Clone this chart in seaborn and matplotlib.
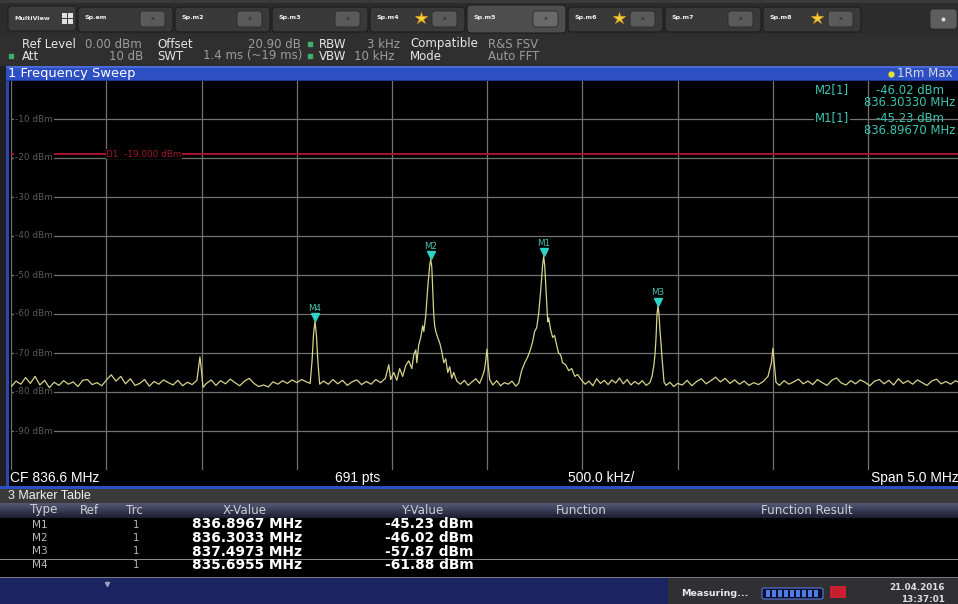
import numpy as np
import pandas as pd
import matplotlib
matplotlib.use("Agg")
import matplotlib.pyplot as plt
import matplotlib.transforms as mtransforms
from matplotlib.patches import Rectangle, FancyBboxPatch
import seaborn as sns

# ---------------- data ----------------
trace_freq_mhz = [
    834.100, 834.125, 834.150, 834.175, 834.200, 834.225, 834.250, 834.275, 834.300, 834.325,
    834.350, 834.375, 834.400, 834.425, 834.450, 834.475, 834.500, 834.525, 834.550, 834.575,
    834.600, 834.625, 834.650, 834.675, 834.700, 834.725, 834.750, 834.775, 834.800, 834.825,
    834.850, 834.875, 834.900, 834.925, 834.950, 834.975, 835.000, 835.025, 835.050, 835.075,
    835.083, 835.091, 835.099, 835.107, 835.125, 835.150, 835.175, 835.200, 835.225, 835.250,
    835.275, 835.300, 835.325, 835.350, 835.375, 835.400, 835.425, 835.450, 835.475, 835.500,
    835.525, 835.550, 835.575, 835.600, 835.625, 835.650, 835.670, 835.680, 835.688, 835.6955,
    835.703, 835.711, 835.720, 835.740, 835.765, 835.790, 835.815, 835.840, 835.865, 835.890,
    835.915, 835.940, 835.965, 835.990, 836.015, 836.040, 836.065, 836.083, 836.093, 836.109,
    836.125, 836.140, 836.156, 836.172, 836.188, 836.204, 836.214, 836.225, 836.230, 836.240,
    836.251, 836.261, 836.267, 836.277, 836.288, 836.298, 836.3033, 836.309, 836.314, 836.319,
    836.324, 836.330, 836.340, 836.351, 836.361, 836.372, 836.382, 836.393, 836.403, 836.414,
    836.424, 836.440, 836.460, 836.480, 836.500, 836.520, 836.540, 836.560, 836.575, 836.585,
    836.592, 836.599, 836.606, 836.613, 836.630, 836.650, 836.670, 836.690, 836.710, 836.730,
    836.750, 836.765, 836.781, 836.797, 836.813, 836.828, 836.839, 836.849, 836.860, 836.870,
    836.881, 836.891, 836.8967, 836.902, 836.907, 836.912, 836.918, 836.923, 836.933, 836.944,
    836.954, 836.965, 836.975, 836.986, 836.996, 837.012, 837.028, 837.044, 837.060, 837.075,
    837.096, 837.115, 837.135, 837.155, 837.175, 837.195, 837.215, 837.235, 837.255, 837.275,
    837.295, 837.315, 837.335, 837.355, 837.375, 837.395, 837.415, 837.435, 837.455, 837.466,
    837.476, 837.482, 837.487, 837.492, 837.4973, 837.503, 837.508, 837.513, 837.518, 837.524,
    837.529, 837.540, 837.560, 837.580, 837.600, 837.625, 837.650, 837.675, 837.700, 837.725,
    837.750, 837.775, 837.800, 837.825, 837.850, 837.875, 837.900, 837.925, 837.950, 837.975,
    838.000, 838.025, 838.050, 838.075, 838.085, 838.093, 838.101, 838.109, 838.117, 838.135,
    838.160, 838.185, 838.210, 838.235, 838.260, 838.285, 838.310, 838.335, 838.360, 838.385,
    838.410, 838.435, 838.460, 838.485, 838.510, 838.535, 838.560, 838.585, 838.610, 838.635,
    838.660, 838.685, 838.710, 838.735, 838.760, 838.785, 838.810, 838.835, 838.860, 838.885,
    838.910, 838.935, 838.960, 838.985, 839.010, 839.035, 839.060, 839.085, 839.100,
]
trace_level_dbm = [
    -78.6, -77.2, -78.0, -76.3, -77.8, -76.0, -78.2, -77.0, -78.9, -77.5,
    -78.3, -77.1, -78.0, -77.4, -78.6, -77.0, -76.8, -78.1, -77.6, -78.4,
    -76.9, -75.6, -77.2, -76.0, -77.9, -76.6, -78.3, -77.8, -76.8, -78.5,
    -77.3, -78.0, -76.9, -77.6, -78.2, -77.0, -78.4, -77.5, -78.1, -77.0,
    -74.0, -71.0, -74.5, -78.8, -77.8, -76.9, -78.3, -77.1, -77.9, -76.7,
    -77.6, -78.4, -77.2, -76.5, -77.8, -78.6, -78.2, -78.7, -77.4, -78.0,
    -77.1, -77.8, -76.9, -77.6, -76.8, -77.4, -77.8, -72.0, -65.0, -61.88,
    -65.5, -72.5, -78.0, -77.2, -78.0, -76.8, -77.9, -77.0, -78.3, -77.4,
    -76.9, -78.1, -77.3, -78.0, -76.8, -77.6, -76.5, -73.0, -76.8, -75.0,
    -77.0, -74.0, -76.0, -73.2, -72.0, -74.0, -70.5, -69.2, -72.5, -68.0,
    -66.0, -63.0, -64.5, -60.5, -53.0, -47.5, -46.02, -48.0, -54.0, -60.0,
    -63.0, -64.5, -66.0, -67.5, -69.5, -72.5, -71.5, -75.0, -73.5, -76.5,
    -75.0, -77.2, -78.0, -77.0, -78.3, -77.4, -76.6, -77.8, -76.0, -74.5,
    -72.0, -69.0, -73.5, -76.8, -78.2, -77.1, -78.4, -77.6, -78.0, -77.2,
    -78.5, -77.8, -74.5, -72.5, -71.0, -69.0, -67.0, -64.5, -63.5, -60.0,
    -54.0, -47.5, -45.23, -47.5, -52.0, -57.0, -62.0, -61.0, -64.0, -66.0,
    -65.5, -68.0, -70.0, -70.5, -72.5, -73.0, -74.5, -74.0, -76.0, -75.5,
    -77.0, -78.0, -77.2, -78.4, -76.6, -77.8, -77.0, -78.1, -76.9, -77.7,
    -76.4, -77.9, -76.8, -78.2, -77.3, -78.0, -77.1, -78.3, -77.6, -76.0,
    -73.0, -70.0, -66.0, -60.0, -57.87, -60.5, -64.5, -67.5, -71.0, -74.5,
    -77.5, -78.3, -77.5, -78.6, -77.8, -78.2, -77.0, -78.4, -77.3, -76.6,
    -77.9, -77.1, -76.2, -77.4, -76.5, -77.8, -76.9, -78.0, -77.2, -78.3,
    -77.6, -78.1, -77.3, -76.0, -74.0, -72.5, -68.8, -73.0, -77.5, -78.3,
    -77.1, -78.0, -77.4, -76.7, -77.9, -77.2, -78.1, -76.8, -77.6, -78.3,
    -77.0, -76.4, -77.7, -78.2, -77.1, -77.9, -76.9, -77.5, -78.4, -77.2,
    -76.8, -77.9, -77.0, -78.2, -76.6, -77.8, -77.1, -78.0, -76.9, -77.6,
    -78.3, -77.2, -76.7, -77.9, -77.3, -78.0, -77.1, -77.7, -78.2,
]

marker_names = ["M1", "M2", "M3", "M4"]
marker_freq_mhz = [836.8967, 836.3033, 837.4973, 835.6955]
marker_level_dbm = [-45.23, -46.02, -57.87, -61.88]
marker_x_text = ["836.8967 MHz", "836.3033 MHz", "837.4973 MHz", "835.6955 MHz"]
marker_y_text = ["-45.23 dBm", "-46.02 dBm", "-57.87 dBm", "-61.88 dBm"]

center_freq_mhz = 836.6
span_mhz = 5.0
ref_level_dbm = 0.0
range_db = 100.0
display_line_dbm = -19.0
y_grid_dbm = [-10, -20, -30, -40, -50, -60, -70, -80, -90]
y_tick_labels = ["-10 dBm", "-20 dBm", "-30 dBm", "-40 dBm", "-50 dBm",
                 "-60 dBm", "-70 dBm", "-80 dBm", "-90 dBm"]
tab_labels = ["Sp.em", "Sp.m2", "Sp.m3", "Sp.m4", "Sp.m5", "Sp.m6", "Sp.m7", "Sp.m8"]

# ---------------- style ----------------
sns.set_theme(style="dark")
plt.rcParams["font.family"] = ["DejaVu Sans"]

W, H = 958, 604
fig = plt.figure(figsize=(W / 100, H / 100), dpi=100, facecolor="black")

# main spectrum axes (pixel geometry: left 11.3, right 963, top 80, bottom 470)
x0, x1, yt, yb = 11.3, 963.1, 80.0, 470.0
ax = fig.add_axes([x0 / W, 1 - yb / H, (x1 - x0) / W, (yb - yt) / H], zorder=1)
ax.set_facecolor("black")
f_lo = center_freq_mhz - span_mhz / 2
f_hi = center_freq_mhz + span_mhz / 2
ax.set_xlim(f_lo, f_hi)
ax.set_ylim(ref_level_dbm - range_db, ref_level_dbm)
ax.set_xticks(np.linspace(f_lo, f_hi, 11))
ax.set_yticks(y_grid_dbm)
ax.grid(True, color="#727272", linewidth=0.9)
ax.tick_params(left=False, bottom=False, labelleft=False, labelbottom=False)
for s in ax.spines.values():
    s.set_visible(False)

df = pd.DataFrame({"freq": trace_freq_mhz, "level": trace_level_dbm})
sns.lineplot(data=df, x="freq", y="level", ax=ax, color="#d6d38a",
             linewidth=0.9, estimator=None, zorder=4)
ax.set_xlabel("")
ax.set_ylabel("")

# display line
ax.axhline(display_line_dbm, color="#b3132e", linewidth=1.3, zorder=3)
ax.text(0.1, display_line_dbm, "D1  -19.000 dBm", color="#9e1a2c", fontsize=6.4,
        transform=ax.get_yaxis_transform(), va="center", ha="left", zorder=3.5,
        bbox=dict(facecolor="black", edgecolor="none", pad=0.3))

# y level labels inside the grid
for v, lab in zip(y_grid_dbm, y_tick_labels):
    ax.text(0.004, v, lab, color="#5a5a5a", fontsize=6.4,
            transform=ax.get_yaxis_transform(), va="center", ha="left", zorder=3.6,
            bbox=dict(facecolor="black", edgecolor="none", pad=0.6))

# markers
off_tri = mtransforms.offset_copy(ax.transData, fig=fig, x=0, y=4, units="dots")
off_lab = mtransforms.offset_copy(ax.transData, fig=fig, x=0, y=13, units="dots")
ax.plot(marker_freq_mhz, marker_level_dbm, "v", color="#2fd4c6", markersize=5.5,
        transform=off_tri, zorder=6, linestyle="none")
for n, f, l in zip(marker_names, marker_freq_mhz, marker_level_dbm):
    ax.text(f, l, n, color="#4cc4b2", fontsize=6.3, ha="center", va="center",
            transform=off_lab, zorder=6)

# ---------------- overlay chrome (pixel coords) ----------------
ov = fig.add_axes([0, 0, 1, 1], zorder=5)
ov.set_xlim(0, W)
ov.set_ylim(H, 0)
ov.axis("off")
ov.patch.set_visible(False)

def rect(x, y, w, h, c, **kw):
    ov.add_patch(Rectangle((x, y), w, h, facecolor=c, edgecolor=kw.pop("ec", "none"),
                           linewidth=kw.pop("lw", 0), **kw))

def rrect(x, y, w, h, c, ec="none", lw=0.0, r=3):
    ov.add_patch(FancyBboxPatch((x, y), w, h, boxstyle=f"round,pad=0,rounding_size={r}",
                                facecolor=c, edgecolor=ec, linewidth=lw))

def txt(x, y, s, **kw):
    kw.setdefault("va", "center")
    kw.setdefault("ha", "left")
    ov.text(x, y, s, **kw)

# tab bar
rect(0, 0, W, 34, "#2c2c2c")
rect(0, 0, W, 3, "#3a3a3a")
rrect(8, 6, 68, 25, "#3c3c3c", ec="#202020", lw=0.8)
txt(14, 18, "MultiView", color="#e8e8e8", fontsize=4.6, fontweight="bold")
for (gx, gy) in [(62, 13), (68, 13), (62, 19), (68, 19)]:
    rect(gx, gy, 5, 4.5, "#e0e0e0")
tab_x = [78, 175, 272, 370, 467, 568, 665, 763]
tab_w = [95, 95, 96, 95, 99, 95, 96, 98]
for i, (tx, tw, lab) in enumerate(zip(tab_x, tab_w, tab_labels)):
    active = i == 4
    rrect(tx, 5 if active else 7, tw, 28 if active else 25,
          "#4e4e4e" if active else "#393939", ec="#1c1c1c", lw=0.8, r=4)
    txt(tx + 7, 18, lab, color="#f0f0f0", fontsize=4.6, fontweight="bold")
    rrect(tx + tw - 33, 11, 25, 16, "#5a5a5a" if not active else "#6a6a6a",
          ec="#2a2a2a", lw=0.6, r=3)
    txt(tx + tw - 20.5, 19, "x", color="#202020", fontsize=4.5, ha="center")
    if i in (3, 5, 7):
        ov.plot([tx + tw - 44], [18], marker="*", color="#f3d53a", markersize=9,
                markeredgecolor="#e8a020", markeredgewidth=0.5)
rrect(930, 9, 27, 20, "#5e5e5e", ec="#2a2a2a", lw=0.6, r=3)
ov.plot([943.5], [19], marker="o", color="#dddddd", markersize=1.8)

# header info
rect(0, 34, W, 32, "#2f2f2f")
lab_c, val_c = "#e6e6e6", "#9c9c9c"
fs = 8.5
txt(22, 44, "Ref Level", color=lab_c, fontsize=fs)
txt(85, 44, "0.00 dBm", color=val_c, fontsize=fs)
txt(157, 44, "Offset", color=lab_c, fontsize=fs)
txt(301, 44, "20.90 dB", color=val_c, fontsize=fs, ha="right")
ov.plot([310], [44], "s", color="#3fae6a", markersize=3)
txt(319, 44, "RBW", color=lab_c, fontsize=fs)
txt(367, 44, "3 kHz", color=val_c, fontsize=fs)
txt(410, 44, "Compatible", color=lab_c, fontsize=fs)
txt(488, 44, "R&S FSV", color=val_c, fontsize=fs)
ov.plot([11], [56], "s", color="#3fae6a", markersize=3)
txt(22, 56, "Att", color=lab_c, fontsize=fs)
txt(143, 56, "10 dB", color=val_c, fontsize=fs, ha="right")
txt(157, 56, "SWT", color=lab_c, fontsize=fs)
txt(203, 56, "1.4 ms (~19 ms)", color=val_c, fontsize=fs)
ov.plot([310], [56], "s", color="#3fae6a", markersize=3)
txt(319, 56, "VBW", color=lab_c, fontsize=fs)
txt(354, 56, "10 kHz", color=val_c, fontsize=fs)
txt(410, 56, "Mode", color=lab_c, fontsize=fs)
txt(488, 56, "Auto FFT", color=val_c, fontsize=fs)

# blue title bar
rect(0, 66, W, 15, "#2d4fc4")
rect(0, 66, W, 2, "#4a6ad8")
rect(0, 79.5, W, 1.5, "#1e389a")
txt(8, 73.5, "1 Frequency Sweep", color="white", fontsize=9.4)
ov.plot([891], [73.5], "o", color="#e8e030", markersize=3.5)
txt(897, 73.5, "1Rm Max", color="#d8d8e0", fontsize=8.6)

# left frame strip
rect(0, 66, 6, 422, "#202020")
rect(6, 81, 3, 405, "#2b47b0")

# marker readout (top right of the diagram)
mc = "#3cc6b2"
mfs = 8.4
txt(815, 90, "M2[1]", color=mc, fontsize=mfs,
    bbox=dict(facecolor="black", edgecolor="none", pad=0.5))
txt(876, 90, "-46.02 dBm", color=mc, fontsize=mfs)
txt(864, 102, "836.30330 MHz", color=mc, fontsize=mfs)
txt(815, 118, "M1[1]", color=mc, fontsize=mfs,
    bbox=dict(facecolor="black", edgecolor="none", pad=0.5))
txt(876, 118, "-45.23 dBm", color=mc, fontsize=mfs)
txt(864, 130, "836.89670 MHz", color=mc, fontsize=mfs)

# bottom scale bar
rect(9, 470, W, 16, "black")
narrow = ["Liberation Sans Narrow", "Liberation Sans", "DejaVu Sans"]
txt(10, 478, "CF 836.6 MHz", color="white", fontsize=10, family=narrow)
txt(335, 478, "691 pts", color="white", fontsize=10, family=narrow)
txt(568, 478, "500.0 kHz/", color="white", fontsize=10, family=narrow)
txt(871, 478, "Span 5.0 MHz", color="white", fontsize=10, family=narrow)
rect(0, 486, W, 3, "#2d4fc4")

# marker table
rect(0, 489, W, 14, "#3a3a3a")
txt(8, 496, "3 Marker Table", color="#f0f0f0", fontsize=9.0, family=narrow)
grad = np.linspace(0, 1, 20)[:, None]
ov.imshow(grad, extent=(0, W, 518, 503), cmap=matplotlib.colors.LinearSegmentedColormap.from_list(
    "hdr", ["#545875", "#1c1e30"]), aspect="auto", zorder=1)
hc = "#d0d0d8"
txt(30, 510, "Type", color=hc, fontsize=8.6)
txt(80, 510, "Ref", color=hc, fontsize=8.6)
txt(126, 510, "Trc", color=hc, fontsize=8.6)
txt(245, 510, "X-Value", color=hc, fontsize=8.6, ha="center")
txt(422, 510, "Y-Value", color=hc, fontsize=8.6, ha="center")
txt(581, 510, "Function", color=hc, fontsize=8.6, ha="center")
txt(807, 510, "Function Result", color=hc, fontsize=8.6, ha="center")
rect(0, 518, W, 60, "black")
row_y = [524.5, 538, 551.5, 565]
for n, xv, yv, ry in zip(marker_names, marker_x_text, marker_y_text, row_y):
    txt(32, ry, n, color="#b8b8b8", fontsize=7.6)
    txt(136, ry, "1", color="#b8b8b8", fontsize=7.2, ha="center")
    txt(192, ry, xv, color="white", fontsize=9.9, fontweight="bold")
    txt(385, ry, yv, color="white", fontsize=9.9, fontweight="bold")
rect(0, 558.5, W, 1.2, "#8a8a8a")
rect(0, 576.5, W, 1.2, "#7a7a7a")

# status bar
rect(0, 578, W, 26, "#303034")
rect(0, 578, 668, 26, "#1b2360")
ov.plot([107], [584], marker="v", color="#9aa0c0", markersize=3)
txt(681, 594, "Measuring...", color="#e8e8e8", fontsize=6.8, fontweight="bold")
rrect(762, 588, 61, 11, "#0c1030", ec="#5a78d8", lw=0.8, r=2)
for k in range(9):
    rect(766 + k * 6, 590, 4, 7, "#4f7ce0")
rect(830, 586, 16, 12, "#c82030")
txt(945, 588, "21.04.2016", color="#e0e0e0", fontsize=6.3, fontweight="bold", ha="right")
txt(945, 599, "13:37:01", color="#e0e0e0", fontsize=6.3, fontweight="bold", ha="right")

fig.savefig("out.png", dpi=100, facecolor="black")
